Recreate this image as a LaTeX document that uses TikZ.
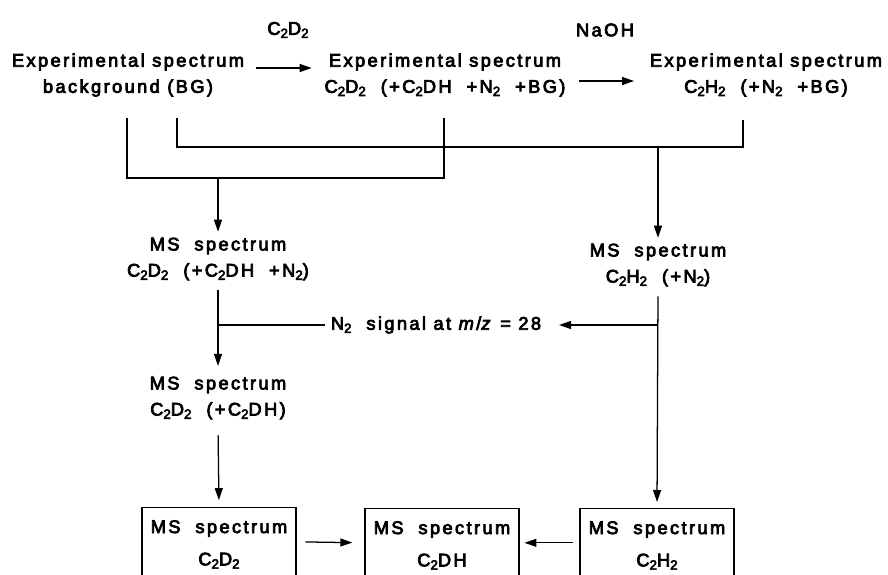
\documentclass[tikz,border=0pt]{standalone}
\usepackage{fontspec}
\setmainfont{Liberation Sans}[LetterSpace=13,FakeBold=4]
\usetikzlibrary{arrows.meta, positioning, calc}
\newcommand{\chsub}[1]{{\fontsize{9.5}{9.5}\selectfont\raisebox{-0.45ex}{#1}}}
\newcommand{\specfont}{\fontsize{13}{18.6}\selectfont}
\newcommand{\boxfont}{\fontsize{13}{23}\selectfont}
\tikzset{
  lbl/.style={align=center, inner sep=4pt, font=\specfont},
  msbox/.style={lbl, font=\boxfont, draw=black, line width=0.9pt, anchor=north,
                minimum width=3.85cm, inner ysep=9pt, text depth=12pt},
  conn/.style={line width=0.9pt, draw=black},
  flow/.style={conn, -{Triangle[length=3mm, width=2mm]}},
}

\begin{document}
\begin{tikzpicture}[x=0.025cm, y=-0.025cm]
\useasboundingbox (0,0) rectangle (888,574);

% Reagents above the arrows
\node[lbl] (reagCD) at (288,30) {C\chsub2D\chsub2};
\node[lbl] (reagNa) at (605,30) {NaOH};

% Experimental spectra
\node[lbl] (expBG) at (128,75) {Experimental spectrum\\background (BG)};
\node[lbl] (expCD) at (445,75) {Experimental spectrum\\C\chsub2D\chsub2\ \ (+C\chsub2DH\ \ +N\chsub2\ \ +BG)};
\node[lbl] (expCH) at (766,75) {Experimental spectrum\\C\chsub2H\chsub2\ \ (+N\chsub2\ \ +BG)};
\draw[flow] ($(expBG.east)+(6,-7)$) -- ($(expCD.west)+(-7,-7)$);
\draw[flow] ($(expCD.east)+(8,6)$) -- ($(expCH.west)+(-10,6)$);

% Background subtraction brackets
\coordinate (bgL) at (127,118);
\coordinate (bgR) at (177,118);
\coordinate (cdB) at (444,118);
\coordinate (chB) at (743,120);
\draw[conn] (bgL) -- ++(0,60) coordinate (brk1) -| (cdB);
\draw[conn] (bgR) -- ++(0,29) coordinate (brk2) -| (chB);

% MS spectra
\node[lbl] (msCDN) at (218,259) {MS\ \ spectrum\\C\chsub2D\chsub2\ \ (+C\chsub2DH\ \ +N\chsub2)};
\node[lbl] (msCH) at (658,265) {MS\ \ spectrum\\C\chsub2H\chsub2\ \ (+N\chsub2)};
\draw[flow] (msCDN.north |- brk1) -- (msCDN.north);
\draw[flow] (msCH.north |- brk2) -- (msCH.north);

% N2 correction
\node[lbl] (nsig) at (436,325) {N\chsub2\ \ signal at \textit{m}/\textit{z} = 28};
\node[lbl] (msCD) at (218,398) {MS\ \ spectrum\\C\chsub2D\chsub2\ \ (+C\chsub2DH)};
\draw[conn] (msCDN.south |- nsig.west) -- (nsig.west);
\draw[flow, shorten >=0.3cm] (msCH.south |- nsig.east) -- (nsig.east);
\draw[flow, shorten <=0.1cm, shorten >=0.12cm] (msCDN.south) -- (msCD.north);

% Final spectra
\node[msbox] (boxCD) at (219,507) {MS\ \ spectrum\\C\chsub2D\chsub2};
\node[msbox] (boxDH) at (442,508) {MS\ \ spectrum\\C\chsub2DH};
\node[msbox] (boxCH) at (657,508) {MS\ \ spectrum\\C\chsub2H\chsub2};
\draw[flow, shorten <=0.25cm, shorten >=0.17cm] (msCD.south) -- (boxCD.north);
\draw[flow, shorten <=0.1cm, shorten >=0.15cm] (msCH.south) -- (boxCH.north);
\draw[flow, shorten <=0.22cm, shorten >=0.3cm] ([yshift=-0.87cm]boxCD.north east) -- ([yshift=-0.87cm]boxDH.north west);
\draw[flow, shorten <=0.17cm, shorten >=0.12cm] ([yshift=-0.87cm]boxCH.north west) -- ([yshift=-0.87cm]boxDH.north east);

\end{tikzpicture}
\end{document}
